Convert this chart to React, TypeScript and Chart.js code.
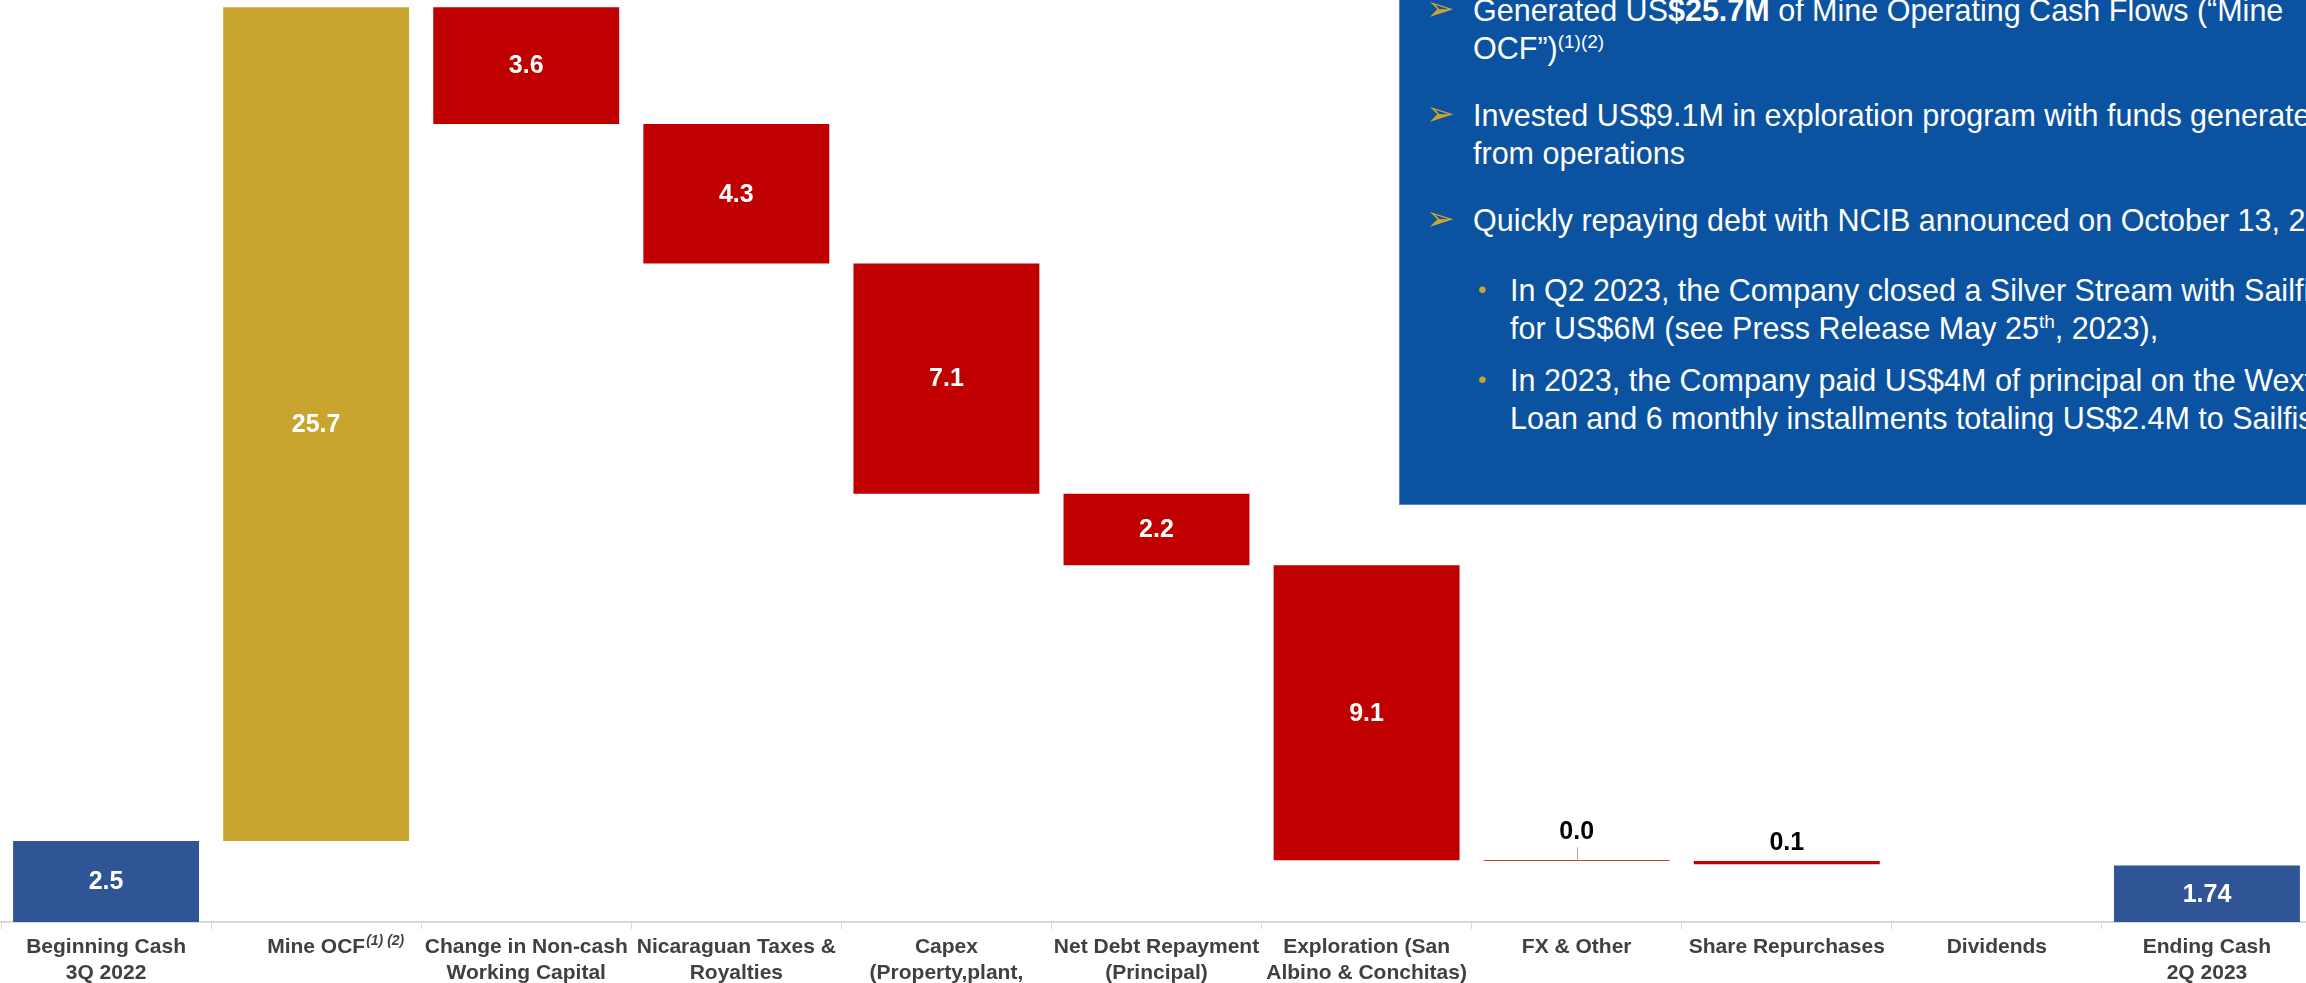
import React, { useEffect, useRef } from "react";
import { Chart, registerables } from "chart.js";

Chart.register(...registerables);

// ---------------- data ----------------
const categories: string[][] = [
  ["Beginning Cash", "3Q 2022"],
  ["Mine OCF"],
  ["Change in Non-cash", "Working Capital"],
  ["Nicaraguan Taxes &", "Royalties"],
  ["Capex", "(Property,plant,", "and equipment)"],
  ["Net Debt Repayment", "(Principal)"],
  ["Exploration (San", "Albino & Conchitas)"],
  ["FX & Other"],
  ["Share Repurchases"],
  ["Dividends"],
  ["Ending Cash", "2Q 2023"],
];
// footnote markers shown as superscripts after a category label
const categoryNotes: string[] = ["", "(1) (2)", "", "", "", "", "", "", "", "", ""];

const beginningCash = 2.5;
// Mine OCF, Non-cash WC, Taxes, Capex, Net debt, Exploration, FX, Buybacks, Dividends
const changes: number[] = [25.7, -3.6, -4.3, -7.1, -2.2, -9.1, -0.02, -0.1, 0];
const endingCash = 1.74;

const valueLabels: string[] = ["2.5", "25.7", "3.6", "4.3", "7.1", "2.2", "9.1", "0.0", "0.1", "", "1.74"];

const TOTAL_COLOR = "#2F5597";
const GAIN_COLOR = "#C9A52F";
const LOSS_COLOR = "#C00000";

const FONT = '"Liberation Sans", Arial, Helvetica, sans-serif';

// ---------------- layout constants ----------------
const CANVAS_W = 2313;
const CANVAS_H = 1060;
const AXIS_Y = 922;
const Y_MAX = 28.42;
const TICK_FONT_SIZE = 21;

function buildRanges(): ([number, number] | null)[] {
  const out: ([number, number] | null)[] = [[0, beginningCash]];
  let level = beginningCash;
  for (const d of changes) {
    if (d === 0) {
      out.push(null);
    } else {
      out.push([level, level + d]);
      level += d;
    }
  }
  out.push([0, endingCash]);
  return out;
}

function buildColors(): string[] {
  const cols = [TOTAL_COLOR];
  for (const d of changes) cols.push(d > 0 ? GAIN_COLOR : LOSS_COLOR);
  cols.push(TOTAL_COLOR);
  return cols;
}

const valueLabelPlugin = {
  id: "valueLabels",
  afterDatasetsDraw(chart: any) {
    const ctx = chart.ctx;
    const meta = chart.getDatasetMeta(0);
    const ranges = chart.data.datasets[0].data;
    ctx.save();
    ctx.font = `bold 25px ${FONT}`;
    ctx.textAlign = "center";
    ctx.textBaseline = "middle";
    meta.data.forEach((bar: any, i: number) => {
      const txt = valueLabels[i];
      if (!txt || ranges[i] == null) return;
      const p = bar.getProps(["x", "y", "base"], true);
      const top = Math.min(p.y, p.base);
      const bottom = Math.max(p.y, p.base);
      const h = bottom - top;
      if (h > 30) {
        ctx.fillStyle = "#FFFFFF";
        ctx.fillText(txt, p.x, (top + bottom) / 2 + 1);
      } else if (h < 1.5) {
        ctx.strokeStyle = "#A6A6A6";
        ctx.lineWidth = 1;
        ctx.beginPath();
        ctx.moveTo(Math.round(p.x) + 0.5, top - 1);
        ctx.lineTo(Math.round(p.x) + 0.5, top - 13);
        ctx.stroke();
        ctx.fillStyle = "#000000";
        ctx.fillText(txt, p.x, top - 28);
      } else {
        ctx.fillStyle = "#000000";
        ctx.fillText(txt, p.x, top - 18);
      }
    });

    // superscript footnote markers on category labels
    const xs = chart.scales.x;
    categoryNotes.forEach((note, i) => {
      if (!note) return;
      ctx.font = `bold ${TICK_FONT_SIZE}px ${FONT}`;
      const first = categories[i][0];
      const w = ctx.measureText(first).width;
      const cx = xs.getPixelForTick(i);
      ctx.font = `italic bold 14px ${FONT}`;
      ctx.textAlign = "left";
      ctx.textBaseline = "alphabetic";
      ctx.fillStyle = "#404040";
      ctx.fillText(note, cx + w / 2 + 1, AXIS_Y + 23);
    });
    ctx.restore();
  },
};

function WaterfallChart() {
  const ref = useRef<HTMLCanvasElement | null>(null);
  useEffect(() => {
    if (!ref.current) return;
    const chart = new Chart(ref.current, {
      type: "bar",
      data: {
        labels: categories as any,
        datasets: [
          {
            data: buildRanges() as any,
            backgroundColor: buildColors(),
            borderWidth: 0,
            barPercentage: 0.885,
            categoryPercentage: 1,
          },
        ],
      },
      options: {
        responsive: false,
        animation: false,
        events: [],
        layout: { padding: { left: 1, right: 1, top: 0, bottom: 0 } },
        plugins: {
          legend: { display: false },
          tooltip: { enabled: false },
          title: { display: false },
        },
        scales: {
          x: {
            offset: true,
            grid: {
              display: true,
              offset: true,
              drawOnChartArea: false,
              drawTicks: true,
              tickLength: 7,
              color: "#D9D9D9",
              lineWidth: 1,
            },
            border: { display: true, color: "#D9D9D9", width: 2 },
            ticks: {
              color: "#404040",
              font: { family: FONT, size: TICK_FONT_SIZE, weight: "bold", lineHeight: 1.2 },
              padding: 6,
              maxRotation: 0,
              minRotation: 0,
              autoSkip: false,
            },
            afterFit: (scale: any) => {
              scale.height = CANVAS_H - AXIS_Y;
            },
          } as any,
          y: {
            display: false,
            min: 0,
            max: Y_MAX,
          },
        },
      },
      plugins: [valueLabelPlugin],
    });
    return () => chart.destroy();
  }, []);
  return (
    <canvas
      ref={ref}
      width={CANVAS_W}
      height={CANVAS_H}
      style={{ position: "absolute", left: 0, top: 0, width: CANVAS_W, height: CANVAS_H, display: "block" }}
    />
  );
}

const GOLD = "#C9A52F";

function Arrow({ top }: { top: number }) {
  return (
    <span
      style={{
        position: "absolute",
        left: 26,
        top: top - 2,
        fontSize: 34,
        color: GOLD,
        fontFamily: '"DejaVu Sans", sans-serif',
      }}
    >
      {"\u27A2"}
    </span>
  );
}

function Dot({ top }: { top: number }) {
  return (
    <span style={{ position: "absolute", left: 78, top, fontSize: 24, color: GOLD }}>{"\u2022"}</span>
  );
}

const supStyle: React.CSSProperties = {
  fontSize: 19,
  position: "relative",
  top: -11,
  lineHeight: 0,
};

function InfoBox() {
  const p = (top: number, left: number): React.CSSProperties => ({
    position: "absolute",
    left,
    top,
    whiteSpace: "nowrap",
  });
  return (
    <div
      style={{
        position: "absolute",
        left: 1399,
        top: -20,
        width: 1100,
        height: 525,
        boxSizing: "border-box",
        background: "#0B52A0",
        border: "1px solid #4F84C6",
        color: "#FFFFFF",
        fontFamily: FONT,
        fontSize: 30.5,
        lineHeight: "38px",
      }}
    >
      <Arrow top={9.5} />
      <div style={p(9.5, 73)}>
        Generated US<b>$25.7M</b> of Mine Operating Cash Flows (“Mine
        <br />
        OCF”)<span style={supStyle}>(1)(2)</span>
      </div>
      <Arrow top={114.6} />
      <div style={p(114.6, 73)}>
        Invested US$9.1M in exploration program with funds generated
        <br />
        from operations
      </div>
      <Arrow top={220} />
      <div style={p(220, 73)}>Quickly repaying debt with NCIB announced on October 13, 2022</div>
      <Dot top={289.5} />
      <div style={p(289.5, 110)}>
        In Q2 2023, the Company closed a Silver Stream with Sailfish
        <br />
        for US$6M (see Press Release May 25<span style={supStyle}>th</span>, 2023),
      </div>
      <Dot top={379.5} />
      <div style={p(379.5, 110)}>
        In 2023, the Company paid US$4M of principal on the Wexford
        <br />
        Loan and 6 monthly installments totaling US$2.4M to Sailfish
      </div>
    </div>
  );
}

export default function App() {
  return (
    <div
      style={{
        position: "fixed",
        left: 0,
        top: 0,
        width: 2306,
        height: 983,
        overflow: "hidden",
        background: "#FFFFFF",
      }}
    >
      <WaterfallChart />
      <InfoBox />
    </div>
  );
}
